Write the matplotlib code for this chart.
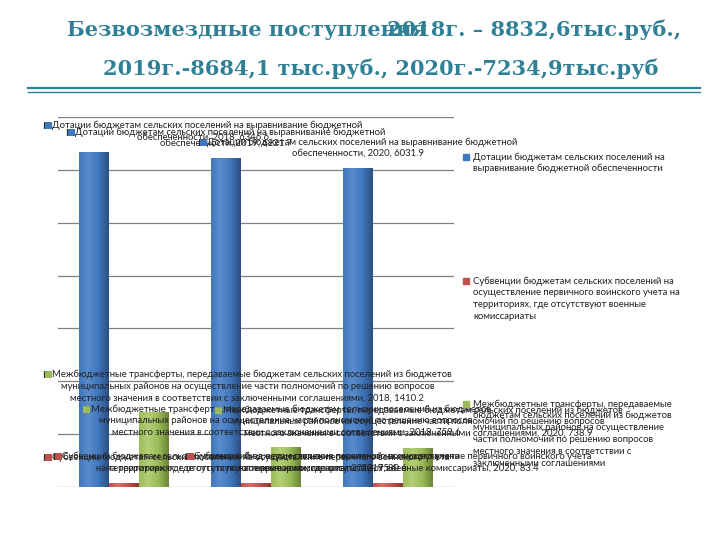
import numpy as np
import matplotlib
matplotlib.use("Agg")
import matplotlib.pyplot as plt
from matplotlib.patches import Rectangle
from matplotlib.lines import Line2D
from matplotlib.colors import LinearSegmentedColormap

# data
years = ["2018", "2019", "2020"]
dotacii = [6346.6, 6221.7, 6031.9]
subvencii = [75.4, 80.6, 83.4]
transferty = [1410.2, 759.6, 738.9]

# wrapped lines for data labels and legend
lab_dot = ["Дотации бюджетам сельских поселений на выравнивание бюджетной", "обеспеченности, {y}, {v}"]
lab_sub = ["Субвенции бюджетам сельских поселений на осуществление первичного воинского учета",
           "на территориях, где отсутствуют военные комиссариаты, {y}, {v}"]
lab_tr = ["Межбюджетные трансферты, передаваемые бюджетам сельских поселений из бюджетов",
          "муниципальных районов на осуществление части полномочий по решению вопросов",
          "местного значения в соответствии с заключенными соглашениями, {y}, {v}"]

leg_dot = ["Дотации бюджетам сельских поселений на", "выравнивание бюджетной обеспеченности"]
leg_sub = ["Субвенции бюджетам сельских поселений на", "осуществление первичного воинского учета на",
           "территориях, где отсутствуют военные", "комиссариаты"]
leg_tr = ["Межбюджетные трансферты, передаваемые", "бюджетам сельских поселений из бюджетов",
          "муниципальных районов на осуществление", "части полномочий по решению вопросов",
          "местного значения в соответствии с", "заключенными соглашениями"]

colors = ["#4177bd", "#c0504d", "#9bbb59"]
dark = ["#2b4f82", "#8a3330", "#6a8536"]
light = ["#5a8ccc", "#d66f6c", "#b3cf78"]
teal = "#2f8096"
lab_font = ["Lato", "DejaVu Sans"]

W, H = 720, 540
fig = plt.figure(figsize=(7.2, 5.4), dpi=100)
fig.patch.set_facecolor("white")


def px(x, y):
    return x / W, 1 - y / H


ax = fig.add_axes([58 / W, 1 - 487 / H, (454 - 58) / W, (487 - 117) / H])
ax.set_xlim(-0.5, 2.5)
ax.set_ylim(0, 7000)
for s in ax.spines.values():
    s.set_visible(False)
ax.set_xticks([])
ax.set_yticks([])
for g in range(0, 7001, 1000):
    ax.axhline(g, color="#808080", lw=0.9, zorder=0)

x = np.arange(len(years))
bw = 30 / 132
series = [dotacii, subvencii, transferty]
offsets = [-bw, 0, bw]


def grad_bars(bars, k):
    cmap = LinearSegmentedColormap.from_list(
        "g", [(0, colors[k]), (0.3, light[k]), (0.65, colors[k]), (1, dark[k])])
    grad = np.linspace(0, 1, 64).reshape(1, -1)
    for b in bars:
        x0, y0 = b.get_x(), b.get_y()
        w, h = b.get_width(), b.get_height()
        im = ax.imshow(grad, cmap=cmap, extent=[x0, x0 + w, y0, y0 + h],
                       aspect="auto", zorder=2, interpolation="bicubic")
        im.set_clip_path(b)


for k, vals in enumerate(series):
    bars = ax.bar(x + offsets[k], vals, width=bw, color=colors[k], zorder=2, lw=0)
    grad_bars(bars, k)
ax.set_xlim(-0.5, 2.5)
ax.set_ylim(0, 7000)

# data labels
labels = []
for k, (vals, tmpl) in enumerate(zip(series, [lab_dot, lab_sub, lab_tr])):
    for i, v in enumerate(vals):
        lines = [l.format(y=years[i], v=v) for l in tmpl]
        lines[0] = "■" + lines[0]
        n = len(lines)
        ts = []
        for j, line in enumerate(lines):
            t = ax.annotate(line, (x[i] + offsets[k], v), xytext=(0, 10 + (n - 1 - j) * 11.5),
                            textcoords="offset pixels", ha="center", va="bottom",
                            fontsize=6.8, family=lab_font, color="#222222", zorder=5,
                            annotation_clip=False)
            ts.append(t)
        labels.append((ts, k))

# keep labels inside the chart area on the left, like the original
fig.canvas.draw()
r = fig.canvas.get_renderer()
for ts, k in labels:
    x0 = min(t.get_window_extent(r).x0 for t in ts)
    shift = max(0, 43 - x0)
    for t in ts:
        t.xyann = (t.xyann[0] + shift, t.xyann[1])
fig.canvas.draw()
for ts, k in labels:
    bb = ts[0].get_window_extent(r)
    fig.text(bb.x0 / W, bb.y0 / H, "■", fontsize=6.8, family=lab_font, color=colors[k],
             ha="left", va="bottom", zorder=6)

# legend on right
for k, (lines, ytop) in enumerate(zip([leg_dot, leg_sub, leg_tr], [157, 281, 404])):
    fig.patches.append(Rectangle(px(463, ytop + 3), 6 / W, 6 / H, transform=fig.transFigure,
                                 color=colors[k], figure=fig))
    for j, line in enumerate(lines):
        fig.text(*px(473, ytop + j * 11.8), line, fontsize=6.8, family=lab_font,
                 color="#222222", ha="left", va="center")

# title
tfont = dict(fontsize=15, fontweight="bold", family="DejaVu Serif", color=teal, va="center")
fig.text(*px(67, 30), "Безвозмездные поступления", ha="left", **tfont)
fig.text(*px(387, 30), "2018г. – 8832,6тыс.руб.,", ha="left", **tfont)
fig.text(*px(381, 69), "2019г.-8684,1 тыс.руб., 2020г.-7234,9тыс.руб", ha="center", **tfont)
fig.lines.append(Line2D([28 / W, 700 / W], [1 - 88 / H] * 2, transform=fig.transFigure,
                        color=teal, lw=1.6))
fig.lines.append(Line2D([28 / W, 700 / W], [1 - 91.5 / H] * 2, transform=fig.transFigure,
                        color=teal, lw=1.0))

fig.savefig("out.png", dpi=100)
